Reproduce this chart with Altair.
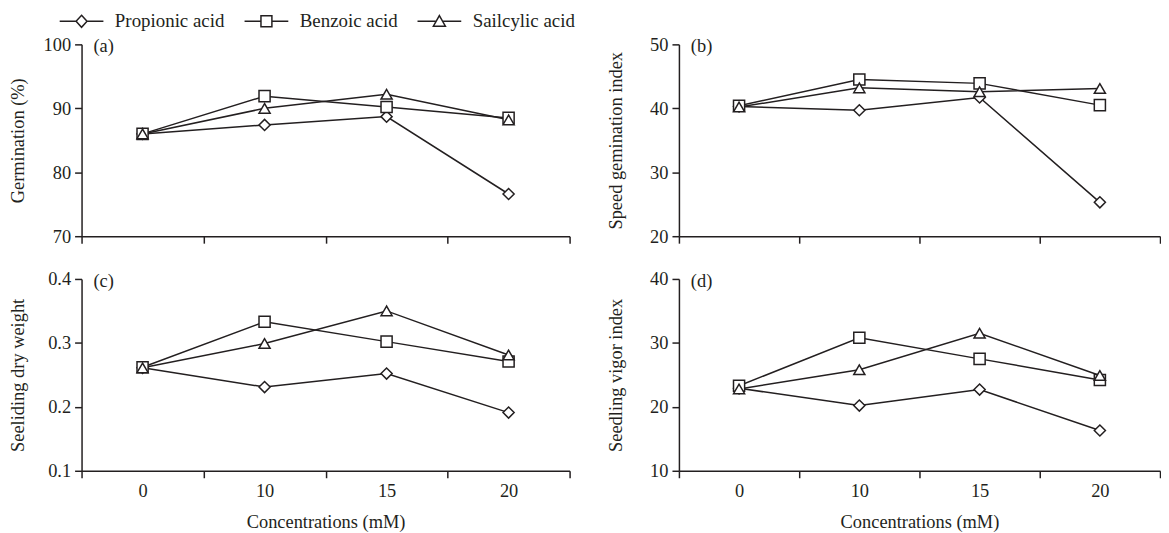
import altair as alt
import pandas as pd

# ---------------- data ----------------
concentrations = ["0", "10", "15", "20"]
acids = ["Propionic acid", "Benzoic acid", "Sailcylic acid"]
panel_labels = ["(a)", "(b)", "(c)", "(d)"]
y_titles = ["Germination (%)", "Speed gemination index",
            "Seeliding dry weight", "Seedling vigor index"]
x_title = "Concentrations (mM)"

germ_propionic = [86.0, 87.4, 88.7, 76.6]
germ_benzoic = [86.0, 91.9, 90.2, 88.5]
germ_salicylic = [86.0, 90.0, 92.2, 88.2]

sgi_propionic = [40.3, 39.7, 41.7, 25.3]
sgi_benzoic = [40.4, 44.5, 43.9, 40.5]
sgi_salicylic = [40.2, 43.2, 42.6, 43.1]

sdw_propionic = [0.261, 0.231, 0.252, 0.191]
sdw_benzoic = [0.262, 0.333, 0.302, 0.271]
sdw_salicylic = [0.261, 0.299, 0.350, 0.281]

svi_propionic = [22.9, 20.2, 22.7, 16.3]
svi_benzoic = [23.3, 30.8, 27.5, 24.2]
svi_salicylic = [22.8, 25.8, 31.5, 24.9]

y_domains = [[70, 100], [20, 50], [0.1, 0.4], [10, 40]]
y_ticks = [[70, 80, 90, 100], [20, 30, 40, 50], [0.1, 0.2, 0.3, 0.4], [10, 20, 30, 40]]
y_formats = ["d", "d", ".1f", "d"]

# ---------------- style ----------------
INK = "#231f20"
FONT = "Liberation Serif"
FS = 18.5
marker_shapes = ["diamond", "square", "triangle-up"]
# legend glyphs: a line with the marker in its middle (unit = 5.5 px)
legend_symbols = [
    "M-4,0H-1M1,0H4M0,-1.1L1,0L0,1.1L-1,0Z",
    "M-4,0H-1M1,0H4M-1,-1H1V1H-1Z",
    "M-4,0H-0.6M0.6,0H4M0,-1.05L1.1,0.9L-1.1,0.9Z",
]
H = 193


def make_panel(idx, series, width, show_x, with_legend):
    rows = []
    for acid, vals in zip(acids, series):
        for c, v in zip(concentrations, vals):
            rows.append({"conc": c, "acid": acid, "value": v})
    df = pd.DataFrame(rows)
    base = alt.Chart(df)

    xaxis_kw = dict(tickBand="extent", labelAngle=0, labels=show_x)
    if show_x:
        xaxis_kw["title"] = x_title
        xaxis_kw["titlePadding"] = 13
    else:
        xaxis_kw["title"] = None
    x = alt.X("conc:N", sort=concentrations,
              scale=alt.Scale(type="band", paddingInner=0, paddingOuter=0),
              axis=alt.Axis(**xaxis_kw))
    y = alt.Y("value:Q",
              scale=alt.Scale(domain=y_domains[idx], nice=False, zero=False),
              axis=alt.Axis(values=y_ticks[idx], format=y_formats[idx],
                            title=y_titles[idx], titleX=-54, titleY=H / 2))

    layers = [base.mark_line(color=INK, strokeWidth=1.5).encode(x=x, y=y, detail="acid:N")]
    for acid, shp in zip(acids, marker_shapes):
        layers.append(
            base.transform_filter(alt.datum.acid == acid)
            .mark_point(shape=shp, size=125, filled=True, fill="white",
                        stroke=INK, strokeWidth=1.5, opacity=1)
            .encode(x=x, y=y)
        )
    if with_legend:
        layers.append(
            base.mark_point(opacity=0, filled=False).encode(
                x=x, y=y,
                shape=alt.Shape(
                    "acid:N", sort=acids,
                    scale=alt.Scale(domain=acids, range=legend_symbols),
                    legend=alt.Legend(
                        orient="none", legendX=-9.5, legendY=-33,
                        direction="horizontal", title=None,
                        labelFont=FONT, labelFontSize=19, labelColor=INK,
                        symbolSize=121, symbolStrokeWidth=1.5,
                        symbolStrokeColor=INK, symbolOpacity=1,
                        labelOffset=24, columnPadding=16, padding=0,
                    ),
                ),
            )
        )
    lab = alt.Chart(pd.DataFrame({"t": [panel_labels[idx]]})).mark_text(
        align="left", baseline="middle", font=FONT, fontSize=FS, color=INK
    ).encode(x=alt.value(12), y=alt.value(2), text="t:N")
    layers.append(lab)
    return alt.layer(*layers).properties(width=width, height=H)


pa = make_panel(0, [germ_propionic, germ_benzoic, germ_salicylic], 491, False, True)
pb = make_panel(1, [sgi_propionic, sgi_benzoic, sgi_salicylic], 484, False, False)
pc = make_panel(2, [sdw_propionic, sdw_benzoic, sdw_salicylic], 491, True, False)
pd_ = make_panel(3, [svi_propionic, svi_benzoic, svi_salicylic], 484, True, False)

chart = alt.concat(
    pa, pb, pc, pd_, columns=2,
    spacing=alt.RowColnumber(row=43, column=110), bounds="flush"
).properties(
    padding={"left": 0, "top": 2, "right": 0, "bottom": 0}
).configure_view(strokeOpacity=0).configure_axis(
    domainColor=INK, domainWidth=1.5, tickColor=INK, tickWidth=1.5, tickSize=7,
    labelFont=FONT, labelFontSize=FS, labelColor=INK, labelPadding=4,
    titleFont=FONT, titleFontSize=FS, titleFontWeight="normal", titleColor=INK,
    grid=False,
)

chart.save("out.html", embed_options={"renderer": "svg", "actions": False})
